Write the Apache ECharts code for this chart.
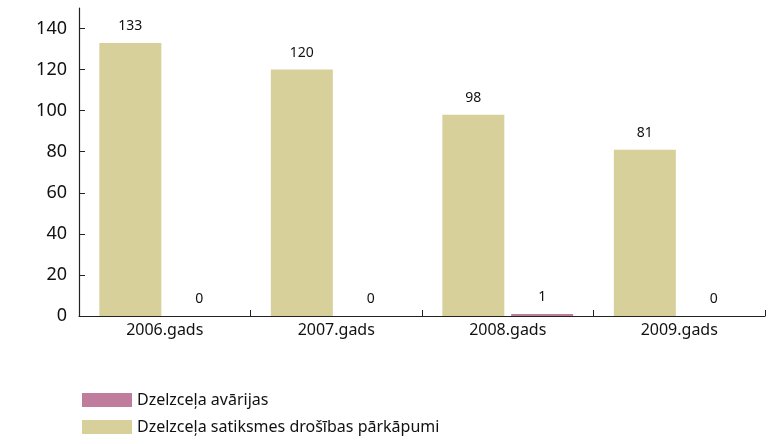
<!doctype html>
<html lang="lv">
<head>
    <meta charset="UTF-8">
    <title>Dzelzceļa drošība</title>
    <style>
        html, body { margin: 0; padding: 0; background: #fff; }
        #chart { width: 769px; height: 444px; }
    </style>
</head>
<body>
<div id="chart"></div>
<script src="https://cdn.jsdelivr.net/npm/echarts@6/dist/echarts.min.js"></script>
<script type="text/javascript">
    var years = ["2006.gads", "2007.gads", "2008.gads", "2009.gads"];
    var parkapumi = [133, 120, 98, 81];
    var avarijas = [0, 0, 1, 0];
    var y_ticks = [0, 20, 40, 60, 80, 100, 120, 140];

    var font = "'Noto Sans', sans-serif";
    var chart = echarts.init(document.getElementById('chart'));

    var label_style = {
        show: true,
        position: 'top',
        distance: 10,
        color: '#111',
        fontSize: 14,
        fontFamily: font
    };

    var option = {
        animation: false,
        textStyle: { fontFamily: font },
        grid: {
            left: 79,
            right: 4,
            top: 8,
            bottom: 128
        },
        legend: {
            orient: 'vertical',
            left: 77,
            top: 387,
            icon: 'rect',
            itemWidth: 50,
            itemHeight: 14,
            itemGap: 11,
            itemStyle: { borderWidth: 0 },
            textStyle: { fontSize: 16, color: '#111', fontFamily: font },
            data: ['Dzelzceļa avārijas', 'Dzelzceļa satiksmes drošības pārkāpumi']
        },
        xAxis: {
            type: 'category',
            data: years,
            axisLine: { lineStyle: { color: '#222', width: 1.2 } },
            axisTick: { show: true, inside: true, length: 6, lineStyle: { color: '#222' } },
            axisLabel: { fontSize: 16, color: '#111', margin: 6, fontFamily: font }
        },
        yAxis: {
            type: 'value',
            min: 0,
            max: 150,
            interval: 10,
            splitLine: { show: false },
            axisLine: { show: true, lineStyle: { color: '#222', width: 1.2 } },
            axisTick: {
                show: true,
                inside: true,
                length: 6,
                customValues: y_ticks,
                lineStyle: { color: '#222' }
            },
            axisLabel: {
                fontSize: 18,
                color: '#111',
                margin: 12,
                customValues: y_ticks,
                fontFamily: font
            }
        },
        series: [
            {
                name: 'Dzelzceļa satiksmes drošības pārkāpumi',
                type: 'bar',
                data: parkapumi,
                barWidth: 62,
                barGap: '11%',
                itemStyle: { color: '#d8d09a' },
                label: label_style
            },
            {
                name: 'Dzelzceļa avārijas',
                type: 'bar',
                data: avarijas,
                barWidth: 62,
                itemStyle: { color: '#bf7c9c' },
                label: label_style
            }
        ]
    };
    chart.setOption(option);
</script>
</body>
</html>
